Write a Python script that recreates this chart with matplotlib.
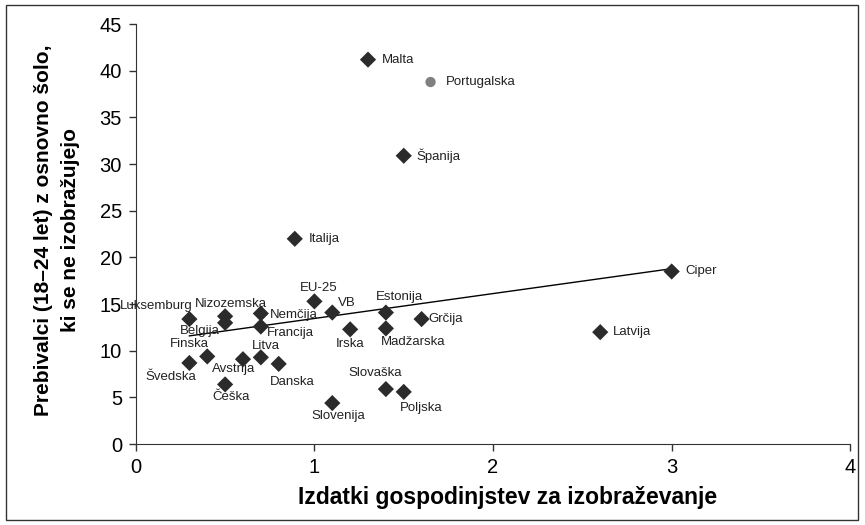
import numpy as np
import matplotlib.pyplot as plt
from matplotlib.patches import Rectangle

plt.rcParams['font.family'] = ['Liberation Sans', 'DejaVu Sans']

# data
countries = ['Malta', 'Španija', 'Italija', 'Ciper', 'Latvija', 'Grčija',
             'EU-25', 'VB', 'Estonija', 'Madžarska', 'Irska',
             'Luksemburg', 'Nizozemska', 'Belgija', 'Nemčija', 'Francija',
             'Finska', 'Švedska', 'Avstrija', 'Litva', 'Danska', 'Češka',
             'Slovenija', 'Slovaška', 'Poljska']
spending = [1.3, 1.5, 0.89, 3.0, 2.6, 1.6,
            1.0, 1.1, 1.4, 1.4, 1.2,
            0.3, 0.5, 0.5, 0.7, 0.7,
            0.4, 0.3, 0.6, 0.7, 0.8, 0.5,
            1.1, 1.4, 1.5]
early_leavers = [41.2, 30.9, 22.0, 18.5, 12.0, 13.4,
                 15.3, 14.1, 14.1, 12.4, 12.3,
                 13.4, 13.7, 13.0, 14.0, 12.6,
                 9.4, 8.7, 9.1, 9.3, 8.6, 6.4,
                 4.4, 5.9, 5.6]

portugal_name = 'Portugalska'
portugal_x = [1.65]
portugal_y = [38.8]

trend_x = [0.3, 3.0]
trend_y = [11.6, 18.8]

# label placement (offset in pixels, ha)
label_pos = {
    'Malta': (14, 0, 'left'), 'Španija': (13, 0, 'left'),
    'Italija': (14, 0, 'left'), 'Ciper': (14, 0, 'left'),
    'Latvija': (13, 0, 'left'), 'Grčija': (7, 0, 'left'),
    'EU-25': (4, 13, 'center'), 'VB': (15, 10, 'center'),
    'Estonija': (14, 16, 'center'), 'Madžarska': (27, -14, 'center'),
    'Irska': (0, -15, 'center'), 'Luksemburg': (-33, 13, 'center'),
    'Nizozemska': (6, 12, 'center'), 'Belgija': (-25, -8, 'center'),
    'Nemčija': (9, -2, 'left'), 'Francija': (6, -6, 'left'),
    'Finska': (-18, 12, 'center'), 'Švedska': (-19, -14, 'center'),
    'Avstrija': (-9, -10, 'center'), 'Litva': (5, 11, 'center'),
    'Danska': (14, -18, 'center'), 'Češka': (6, -13, 'center'),
    'Slovenija': (6, -13, 'center'), 'Slovaška': (-11, 16, 'center'),
    'Poljska': (17, -16, 'center'),
}

fig = plt.figure(figsize=(8.65, 5.25), dpi=100)
ax = fig.add_axes([0.157, 0.154, 0.826, 0.8])

ax.plot(trend_x, trend_y, color='black', lw=1, zorder=2)
ax.scatter(spending, early_leavers, marker='D', s=68, color='#2b2b2b',
           edgecolors='none', zorder=3)
ax.scatter(portugal_x, portugal_y, marker='o', s=55, color='#808080',
           edgecolors='none', zorder=3)

for name, x, y in zip(countries, spending, early_leavers):
    dx, dy, ha = label_pos[name]
    ax.annotate(name, (x, y), xytext=(dx, dy), textcoords='offset pixels',
                ha=ha, va='center', fontsize=9.5, color='#222222')
ax.annotate(portugal_name, (portugal_x[0], portugal_y[0]), xytext=(15, 0),
            textcoords='offset pixels', ha='left', va='center',
            fontsize=9.5, color='#222222')

ax.set_xlim(0, 4)
ax.set_ylim(0, 45)
ax.set_xticks(np.arange(0, 5, 1))
ax.set_yticks(np.arange(0, 50, 5))
ax.spines['top'].set_visible(False)
ax.spines['right'].set_visible(False)
for sp in ('left', 'bottom'):
    ax.spines[sp].set_color('#333333')
ax.tick_params(direction='out', length=5, width=1, color='#333333',
               labelsize=14.5, pad=5)

ax.set_xlabel('Izdatki gospodinjstev za izobraževanje', fontsize=16.5,
              fontweight='bold')
ax.xaxis.set_label_coords(0.52, -0.1)
ax.set_ylabel('Prebivalci (18–24 let) z osnovno šolo,\nki se ne izobražujejo',
              fontsize=15, fontweight='bold', linespacing=1.55)
ax.yaxis.set_label_coords(-0.078, 0.51)

fig.patches.append(Rectangle((0.007, 0.01), 0.985, 0.98, transform=fig.transFigure,
                             fill=False, edgecolor='#333333', lw=1))

fig.savefig('out.png', dpi=100)
